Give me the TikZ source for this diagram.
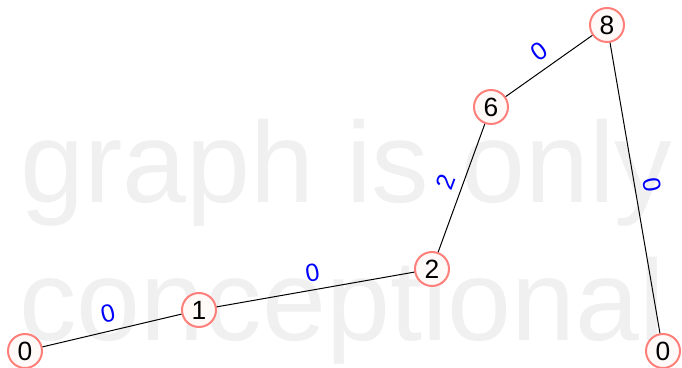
\documentclass[tikz,border=0pt]{standalone}
\usepackage{fontspec}
\setmainfont{Liberation Sans}
\definecolor{ringred}{HTML}{FF7F7A}
\definecolor{ringfill}{HTML}{FFF9F8}
\definecolor{markgray}{gray}{0.94}
\begin{document}
\begin{tikzpicture}[x=0.5pt, y=-0.5pt,
  every node/.style={font=\fontsize{13.2pt}{15pt}\selectfont},
  vertex/.style={circle, draw=ringred, fill=ringfill, line width=1pt, minimum size=17pt, inner sep=0pt},
  weight/.style={font=\fontsize{12.5pt}{14pt}\selectfont, text=blue, midway, above, sloped, inner sep=4pt}]
  \useasboundingbox (0,0) rectangle (682,368);

  % background note
  \node[anchor=base west, inner sep=0pt, text=markgray, font=\fontsize{57.5pt}{60pt}\selectfont]
    (mark1) at (20,203) {graph is only};
  \node[anchor=base west, inner sep=0pt, text=markgray, font=\fontsize{57.5pt}{60pt}\selectfont]
    (mark2) at (19,341) {conceptional};

  % vertices
  \node[vertex] (v0) at (25,351) {0};
  \node[vertex] (v1) at (199,310) {1};
  \node[vertex] (v2) at (432,269) {2};
  \node[vertex] (v6) at (491,107) {6};
  \node[vertex] (v8) at (607,25) {8};
  \node[vertex] (w0) at (663,351) {0};

  % edges with weights
  \draw[line width=0.5pt] (v0) -- node[weight] {0} (v1);
  \draw[line width=0.5pt] (v1) -- node[weight] {0} (v2);
  \draw[line width=0.5pt] (v2) -- node[weight] {2} (v6);
  \draw[line width=0.5pt] (v6) -- node[weight] {0} (v8);
  \draw[line width=0.5pt] (v8) -- node[weight] {0} (w0);
\end{tikzpicture}
\end{document}
